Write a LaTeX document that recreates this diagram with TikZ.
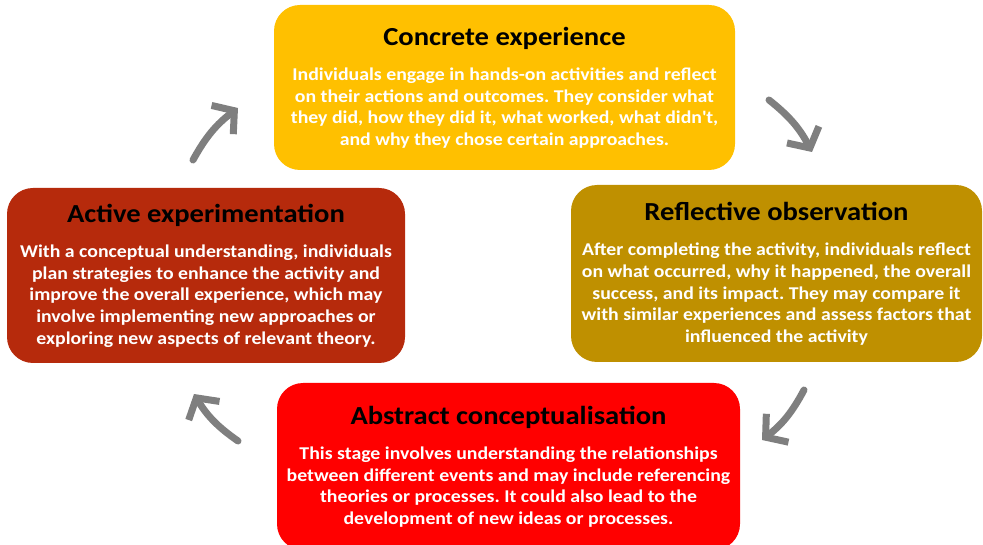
\documentclass[tikz,border=0pt]{standalone}
\usepackage{fontspec}
\setmainfont[FakeStretch=1.1]{Carlito}
\usetikzlibrary{arrows.meta,positioning}
\definecolor{amberc}{HTML}{FFC000}
\definecolor{goldc}{HTML}{BF9000}
\definecolor{rustc}{HTML}{B62A0C}
\definecolor{redc}{HTML}{FF0000}
\definecolor{cyclec}{HTML}{7F7F7F}

\begin{document}
\begin{tikzpicture}[x=1pt, y=-1pt,
  stage/.style={rounded corners=26pt, align=center, inner sep=0pt, text=white,
    font=\bfseries\fontsize{18}{21.6}\selectfont\frenchspacing},
  cyc/.style={-{Straight Barb[length=15pt, width=36pt]}, cyclec, line width=7pt,
    line cap=round, bend left=12}]

\useasboundingbox (0,0) rectangle (983,545);

% the four stages of the cycle
\node[stage, fill=amberc, minimum width=461pt, minimum height=165pt] (conc) at (504.5,87.5)
  {\textcolor{black}{\fontsize{26}{28}\selectfont Concrete experience}\\[14pt]
   Individuals engage in hands-on activities and reflect\\
   on their actions and outcomes. They consider what\\
   they did, how they did it, what worked, what didn\textquotesingle t,\\
   and why they chose certain approaches.};
\node[stage, fill=goldc, minimum width=411pt, minimum height=177pt] (refl) at (776.5,273.5)
  {\textcolor{black}{\fontsize{26}{28}\selectfont Reflective observation}\\[14pt]
   After completing the activity, individuals reflect\\
   on what occurred, why it happened, the overall\\
   success, and its impact. They may compare it\\
   with similar experiences and assess factors that\\
   influenced the activity};
\node[stage, fill=redc, minimum width=463pt, minimum height=167pt] (abst) at (508.5,466.5)
  {\textcolor{black}{\fontsize{26}{28}\selectfont Abstract conceptualisation}\\[14pt]
   This stage involves understanding the relationships\\
   between different events and may include referencing\\
   theories or processes. It could also lead to the\\
   development of new ideas or processes.};
\node[stage, fill=rustc, minimum width=398pt, minimum height=175pt] (actv) at (206,275.5)
  {\textcolor{black}{\fontsize{26}{28}\selectfont Active experimentation}\\[14pt]
   With a conceptual understanding, individuals\\
   plan strategies to enhance the activity and\\
   improve the overall experience, which may\\
   involve implementing new approaches or\\
   exploring new aspects of relevant theory.};

% arrow ends between the boxes
\coordinate (c1a) at (193,160); \coordinate (c1b) at (238,108);
\coordinate (c2a) at (769,100); \coordinate (c2b) at (812,152);
\coordinate (c3a) at (804,390); \coordinate (c3b) at (762,440);
\coordinate (c4a) at (238,441); \coordinate (c4b) at (194,394);

\draw[cyc] (c1a) to (c1b);
\draw[cyc] (c2a) to (c2b);
\draw[cyc] (c3a) to (c3b);
\draw[cyc] (c4a) to (c4b);
\end{tikzpicture}
\end{document}
